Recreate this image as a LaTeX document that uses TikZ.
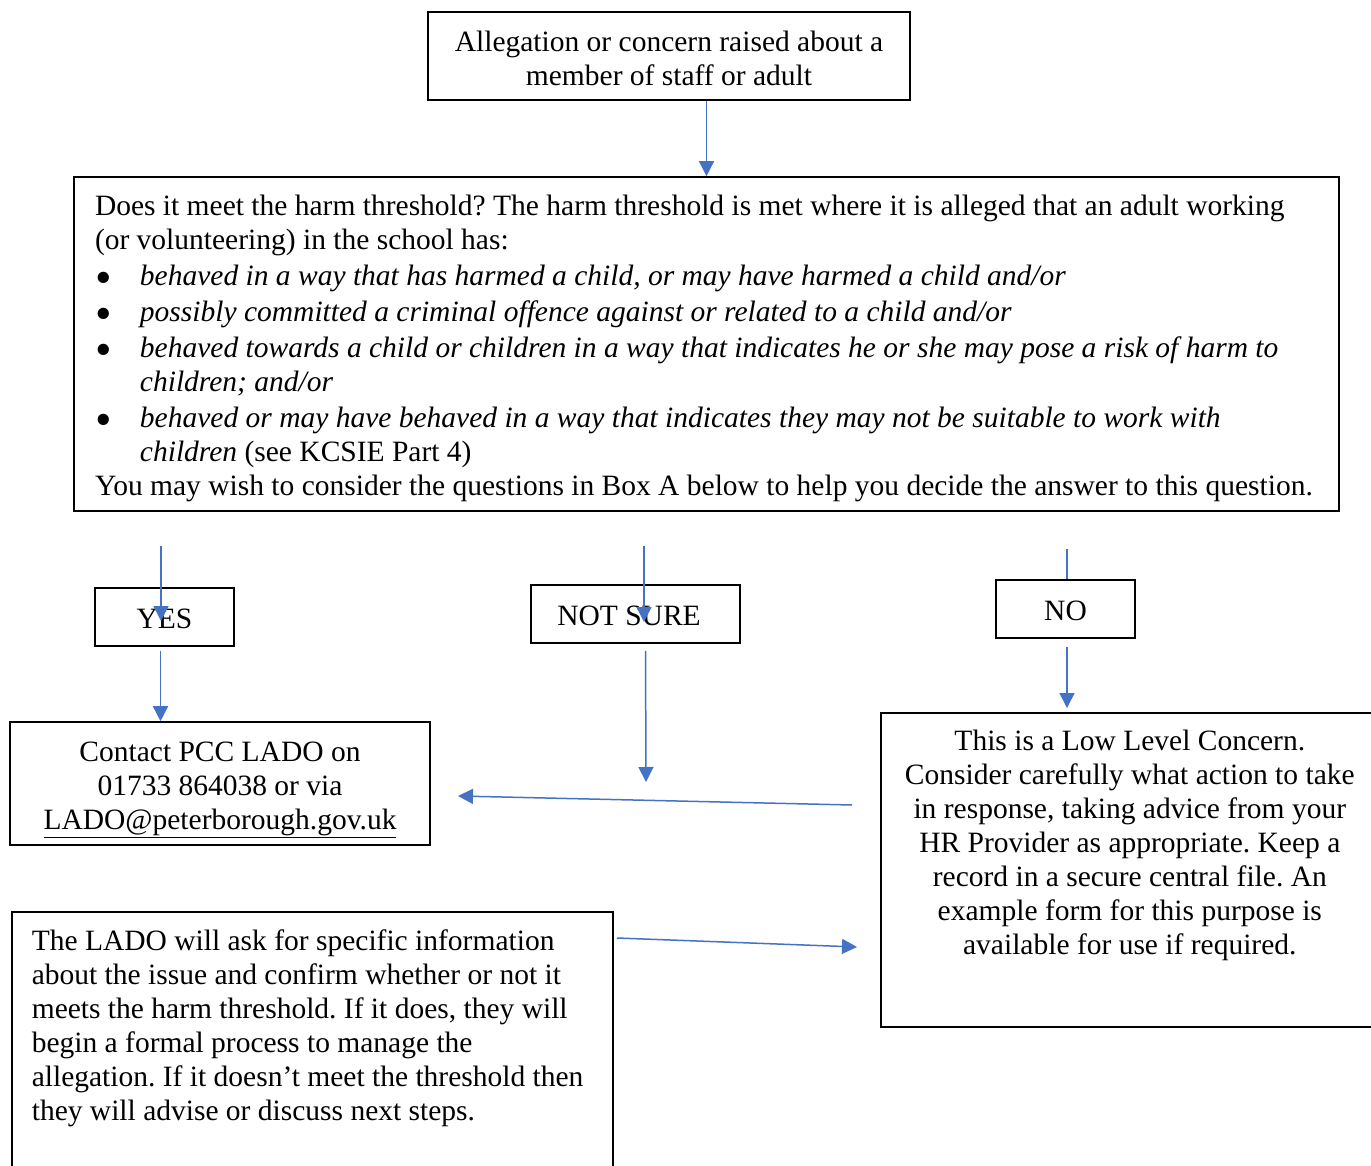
\documentclass[tikz,border=0pt]{standalone}
\usepackage{fontspec}
\usepackage{graphicx}
\setmainfont{Liberation Serif}
\usetikzlibrary{arrows.meta,positioning,calc}
\definecolor{flowblue}{HTML}{4472C4}

\tikzset{
  box/.style={draw,line width=1.6pt,inner sep=0pt},
  tallbox/.style={box,anchor=north west,inner ysep=0pt},
  flow/.style={draw=flowblue,line width=1.5pt,-{Triangle[width=15pt,length=15pt]}},
  link/.style={draw=flowblue,line width=1.5pt}
}
\newcommand{\bul}{\makebox[45pt][l]{\smash{\raisebox{-8pt}{\scalebox{1.6}{\textbullet}}}}}
\newcommand{\cont}{\hspace*{45pt}}

\begin{document}
\begin{tikzpicture}[x=1pt,y=-1pt,font=\fontsize{29.5}{34}\selectfont\frenchspacing]
    \clip (0,0) rectangle (1371,1166);
    \fill[white] (0,0) rectangle (1371,1166);

    \node[box,minimum width=482pt,minimum height=88pt,align=center] (top) at (669,56)
      {\rule{0pt}{25pt}Allegation or concern raised about a\\member of staff or adult};

    \node[box,minimum width=1265pt,minimum height=334pt] (big) at (706.5,344)
      {\parbox{1265pt}{\raggedright\leftskip=21pt
       \rule{0pt}{30pt}Does it meet the harm threshold? The harm threshold is met where it is alleged that an adult working\\
       (or volunteering) in the school has:\\[2pt]
       \bul\textit{behaved in a way that has harmed a child, or may have harmed a child and/or}\\[2pt]
       \bul\textit{possibly committed a criminal offence against or related to a child and/or}\\[2pt]
       \bul\textit{behaved towards a child or children in a way that indicates he or she may pose a risk of harm to}\\
       \cont\textit{children; and/or}\\[2pt]
       \bul\textit{behaved or may have behaved in a way that indicates they may not be suitable to work with}\\
       \cont\textit{children} (see KCSIE Part 4)\\
       You may wish to consider the questions in Box A below to help you decide the answer to this question.}};

    \node[box,minimum width=139pt,minimum height=58pt] (yes) at (164.5,617) {\rule{0pt}{24pt}YES};
    \node[box,minimum width=209pt,minimum height=58pt] (nsure) at (635.5,614) {\rule{0pt}{24pt}NOT SURE\kern13pt};
    \node[box,minimum width=139pt,minimum height=58pt] (no) at (1065.5,609) {\rule{0pt}{24pt}NO};

    \node[box,minimum width=420pt,minimum height=123pt,align=center] (contact) at (220,783.5)
      {\rule{0pt}{32pt}Contact PCC LADO on\\01733 864038 or via\\\underline{LADO@peterborough.gov.uk}};

    \node[tallbox,inner xsep=0pt] (low) at (880,712)
      {\parbox[c][314pt][t]{498pt}{\centering\vspace*{17pt}
       This is a Low Level Concern.\\
       Consider carefully what action to take\\
       in response, taking advice from your\\
       HR Provider as appropriate. Keep a\\
       record in a secure central file. An\\
       example form for this purpose is\\
       available for use if required.}};

    \node[tallbox,inner xsep=20pt] (info) at (11,911)
      {\parbox[c][280pt][t]{561pt}{\raggedright\vspace*{18pt}
       The LADO will ask for specific information\\
       about the issue and confirm whether or not it\\
       meets the harm threshold. If it does, they will\\
       begin a formal process to manage the\\
       allegation. If it doesn’t meet the threshold then\\
       they will advise or discuss next steps.}};

    \coordinate (yesin) at (161,546);
    \coordinate (nsin) at (644,546);
    \coordinate (noin) at (1067,549);
    \coordinate (nsout) at (646,782);
    \coordinate (lowfrom) at (852,805);
    \coordinate (contto) at (458,796);
    \coordinate (infofrom) at (617,938);
    \coordinate (lowto) at (857,947);

    \draw[flow] (big.north |- top.south) -- (big.north);
    \draw[flow] (yesin) -- ($(yesin |- yes.center)+(0,4)$);
    \draw[flow] (nsin) -- ($(nsin |- nsure.center)+(0,8)$);
    \draw[link] (noin) -- (noin |- no.north);
    \draw[flow,shorten <=4pt] ($(yes.south)+(-4,0)$) -- ($(yes.south |- contact.north)+(-4,0)$);
    \draw[flow,shorten <=7pt] ($(nsure.south)+(10,0)$) -- (nsout);
    \draw[flow,shorten <=8pt] ($(no.south)+(1.5,0)$) -- ($(no.south |- low.north)+(1.5,-4)$);
    \draw[flow] (lowfrom) -- (contto);
    \draw[flow] (infofrom) -- (lowto);
\end{tikzpicture}
\end{document}
